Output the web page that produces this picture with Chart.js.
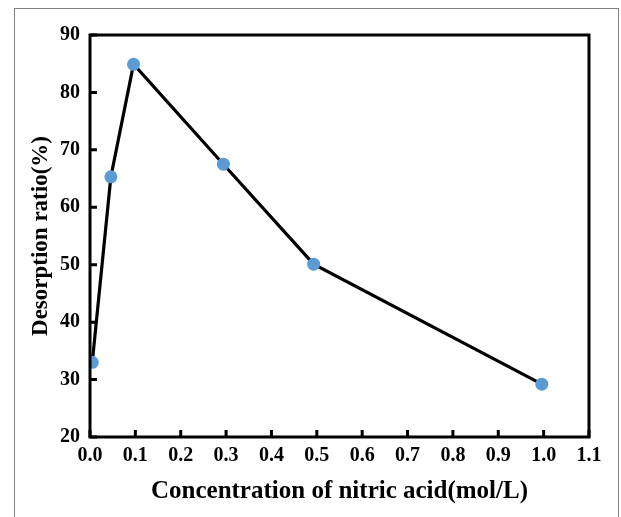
<!DOCTYPE html>
<html>
<head>
<meta charset="utf-8">
<script src="https://cdn.jsdelivr.net/npm/chart.js@4"></script>
<style>
  html, body { margin: 0; padding: 0; background: #fff; }
  #wrap { position: relative; width: 621px; height: 517px; overflow: hidden; }
  #frame { position: absolute; left: 14px; top: 8px; width: 603px; height: 530px; border: 1px solid #808080; }
  #chartDesorption { position: absolute; left: 0; top: 0; }
</style>
</head>
<body>
<div id="wrap">
  <div id="frame"></div>
  <canvas id="chartDesorption" width="621" height="517"></canvas>
</div>
<script>
// values
const concentration = [0.005, 0.046, 0.096, 0.294, 0.493, 0.996];
const desorption = [33.0, 65.3, 84.9, 67.5, 50.1, 29.2];
const xTicks = [0.0, 0.1, 0.2, 0.3, 0.4, 0.5, 0.6, 0.7, 0.8, 0.9, 1.0, 1.1];
const yTicks = [20, 30, 40, 50, 60, 70, 80, 90];

const serif = "'Times New Roman', 'Liberation Serif', serif";

// box round the plot area and inward ticks
const frameBox = {
  id: 'frameBox',
  afterDatasetsDraw(chart) {
    const { ctx, chartArea: a, scales } = chart;
    ctx.save();
    ctx.strokeStyle = '#000';
    ctx.lineWidth = 3;
    ctx.lineCap = 'butt';
    ctx.beginPath();
    xTicks.forEach(v => {
      const px = scales.x.getPixelForValue(v);
      ctx.moveTo(px, a.bottom);
      ctx.lineTo(px, a.bottom - 7);
    });
    yTicks.forEach(v => {
      const py = scales.y.getPixelForValue(v);
      ctx.moveTo(a.left, py);
      ctx.lineTo(a.left + 7, py);
    });
    ctx.stroke();
    ctx.lineJoin = 'miter';
    ctx.strokeRect(a.left, a.top, a.right - a.left, a.bottom - a.top);
    ctx.restore();
  }
};

new Chart(document.getElementById('chartDesorption'), {
  type: 'line',
  data: {
    datasets: [{
      data: concentration.map((c, i) => ({ x: c, y: desorption[i] })),
      borderColor: '#000000',
      borderWidth: 3.2,
      pointRadius: 6.5,
      pointBorderWidth: 0,
      pointBackgroundColor: '#5b9bd5',
      tension: 0
    }]
  },
  options: {
    responsive: false,
    animation: false,
    layout: { padding: { top: 35, right: 32, left: 0, bottom: 0 } },
    plugins: {
      legend: { display: false },
      tooltip: { enabled: false }
    },
    scales: {
      x: {
        type: 'linear',
        min: 0,
        max: 1.1,
        afterFit: s => { s.height = 80; },
        afterBuildTicks: s => { s.ticks = xTicks.map(v => ({ value: v })); },
        grid: { display: false, drawTicks: false },
        border: { display: false },
        ticks: {
          padding: 7,
          color: '#000',
          font: { family: serif, size: 20, weight: 'bold' },
          callback: v => v.toFixed(1)
        },
        title: {
          display: true,
          text: 'Concentration of nitric acid(mol/L)',
          color: '#000',
          font: { family: serif, size: 25, weight: 'bold' },
          padding: { top: 0, bottom: 10 }
        }
      },
      y: {
        min: 20,
        max: 90,
        afterFit: s => { s.width = 90; },
        afterBuildTicks: s => { s.ticks = yTicks.map(v => ({ value: v })); },
        grid: { display: false, drawTicks: false },
        border: { display: false },
        ticks: {
          padding: 10,
          color: '#000',
          font: { family: serif, size: 20, weight: 'bold' }
        },
        title: {
          display: true,
          text: 'Desorption ratio(%)',
          color: '#000',
          font: { family: serif, size: 23, weight: 'bold' },
          padding: { top: 27, bottom: 0 }
        }
      }
    }
  },
  plugins: [frameBox]
});
</script>
</body>
</html>
